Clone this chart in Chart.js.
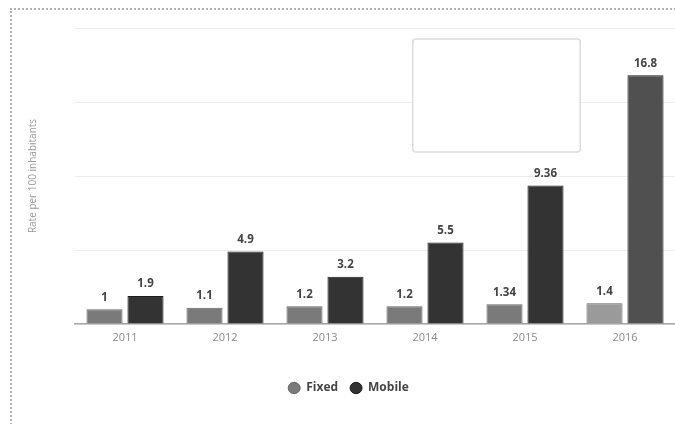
<!DOCTYPE html>
<html>
<head>
<meta charset="utf-8">
<script src="https://cdn.jsdelivr.net/npm/chart.js@4/dist/chart.umd.min.js"></script>
<style>
  html, body { margin: 0; padding: 0; background: #fff; }
  #wrap { position: relative; width: 675px; height: 424px; overflow: hidden; }
  #frame { position: absolute; left: 10px; top: 8px; width: 700px; height: 450px;
           border-top: 2px dotted #b0b0b0; border-left: 2px dotted #b0b0b0; }
  #c { position: absolute; left: 0; top: 0; }
</style>
</head>
<body>
<div id="wrap">
  <div id="frame"></div>
  <canvas id="c" width="675" height="424"></canvas>
</div>
<script>
const categories = ['2011', '2012', '2013', '2014', '2015', '2016'];
const fixedValues = [1, 1.1, 1.2, 1.2, 1.34, 1.4];
const mobileValues = [1.9, 4.9, 3.2, 5.5, 9.36, 16.8];
const valueLabelsFixed = ['1', '1.1', '1.2', '1.2', '1.34', '1.4'];
const valueLabelsMobile = ['1.9', '4.9', '3.2', '5.5', '9.36', '16.8'];
const yTicks = [0, 5, 10, 15, 20];

const fixedColors = ['#7a7a7a', '#7a7a7a', '#7a7a7a', '#7a7a7a', '#7a7a7a', '#9a9a9a'];
const mobileColors = ['#333333', '#333333', '#333333', '#333333', '#333333', '#505050'];

const valueLabelPlugin = {
  id: 'valueLabels',
  afterDatasetsDraw(chart) {
    const ctx = chart.ctx;
    const labelSets = [valueLabelsFixed, valueLabelsMobile];
    ctx.save();
    ctx.font = 'bold 11.5px "Open Sans", sans-serif';
    ctx.fillStyle = '#444';
    ctx.textAlign = 'center';
    ctx.textBaseline = 'bottom';
    chart.data.datasets.forEach((ds, di) => {
      const meta = chart.getDatasetMeta(di);
      meta.data.forEach((el, i) => {
        ctx.fillText(labelSets[di][i], el.x, el.y - 6);
      });
    });
    ctx.restore();
  }
};

const emptyBoxPlugin = {
  id: 'emptyBox',
  afterDraw(chart) {
    const a = chart.chartArea;
    const w = a.right - a.left, h = a.bottom - a.top;
    const x0 = a.left + 0.563 * w, x1 = a.left + 0.842 * w;
    const y0 = a.top + 0.037 * h, y1 = a.top + 0.419 * h;
    const ctx = chart.ctx;
    ctx.save();
    ctx.fillStyle = '#ffffff';
    ctx.strokeStyle = '#dcdcdc';
    ctx.lineWidth = 1.5;
    ctx.beginPath();
    ctx.roundRect(x0, y0, x1 - x0, y1 - y0, 3);
    ctx.fill();
    ctx.stroke();
    ctx.restore();
  }
};

new Chart(document.getElementById('c'), {
  type: 'bar',
  data: {
    labels: categories,
    datasets: [
      { label: 'Fixed', data: fixedValues, backgroundColor: fixedColors, borderColor: '#666', borderWidth: 1,
        categoryPercentage: 0.82, barPercentage: 0.88 },
      { label: 'Mobile', data: mobileValues, backgroundColor: mobileColors, borderColor: '#1e1e1e', borderWidth: 1,
        categoryPercentage: 0.82, barPercentage: 0.88 }
    ]
  },
  options: {
    responsive: false,
    animation: false,
    layout: { padding: { top: 28, right: 0, bottom: 20, left: 22 } },
    plugins: {
      legend: {
        position: 'bottom',
        labels: {
          usePointStyle: true, pointStyle: 'circle', boxWidth: 8, boxHeight: 8, pointStyleWidth: 12,
          padding: 12, color: '#444',
          font: { family: '"Open Sans", sans-serif', size: 12, weight: 'bold' }
        }
      },
      tooltip: { enabled: false }
    },
    scales: {
      x: {
        grid: { display: false, drawTicks: false },
        border: { display: true, color: '#a8a8a8', width: 1.5 },
        ticks: { color: '#888', padding: 7, font: { family: '"Open Sans", sans-serif', size: 11 } },
        afterFit(s) { s.height = 46; }
      },
      y: {
        min: 0, max: 20,
        afterBuildTicks(s) { s.ticks = yTicks.map(v => ({ value: v })); },
        ticks: { display: false },
        grid: { color: '#ececec', drawTicks: false },
        border: { display: false },
        title: { display: true, text: 'Rate per 100 inhabitants', color: '#999',
                 padding: { top: 5, bottom: 0 },
                 font: { family: '"Open Sans", sans-serif', size: 10 } },
        afterFit(s) { s.width = 53; }
      }
    }
  },
  plugins: [valueLabelPlugin, emptyBoxPlugin]
});
</script>
</body>
</html>
